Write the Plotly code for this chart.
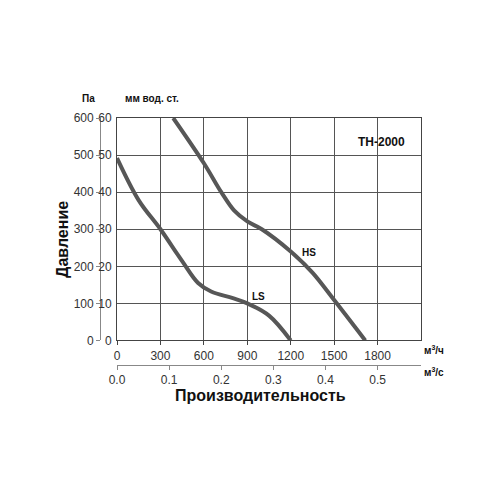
import plotly.graph_objects as go

# производительность, м3/ч  /  давление, Па
flow_ls = [0, 150, 300, 450, 560, 650, 800, 900, 1050, 1200]
pa_ls = [492, 378, 300, 214, 155, 132, 114, 100, 67, 0]

flow_hs = [388, 600, 720, 810, 900, 1000, 1200, 1350, 1500, 1715]
pa_hs = [600, 478, 400, 350, 321, 300, 240, 183, 109, 0]

pa_ticks = [0, 100, 200, 300, 400, 500, 600]
mm_ticks = ["0", "10", "20", "30", "40", "50", "60"]
m3h_ticks = [0, 300, 600, 900, 1200, 1500, 1800]
m3s_ticks = [0.0, 0.1, 0.2, 0.3, 0.4, 0.5]

FONT = "Liberation Sans, Arial, sans-serif"
NARROW = "Liberation Sans Narrow, Arial Narrow, Liberation Sans, sans-serif"
CURVE = "#575757"
GRID = "#555555"

fig = go.Figure()
fig.add_trace(go.Scatter(x=flow_ls, y=pa_ls, mode="lines",
                         line=dict(color=CURVE, width=4, shape="spline", smoothing=1.0),
                         showlegend=False, hoverinfo="skip"))
fig.add_trace(go.Scatter(x=flow_hs, y=pa_hs, mode="lines",
                         line=dict(color=CURVE, width=4, shape="spline", smoothing=1.0),
                         showlegend=False, hoverinfo="skip"))
# invisible trace so the secondary axes are drawn
fig.add_trace(go.Scatter(x=[0], y=[0], xaxis="x2", yaxis="y2", mode="markers",
                         marker=dict(opacity=0), showlegend=False, hoverinfo="skip"))

tick_font = dict(family=NARROW, size=12, color="#333")

fig.update_layout(
    width=500, height=500,
    margin=dict(l=52, r=87, t=110, b=100),
    paper_bgcolor="white", plot_bgcolor="white",
    xaxis=dict(domain=[0.158, 1], range=[0, 2100], tickvals=m3h_ticks,
               showgrid=True, gridcolor=GRID, gridwidth=1,
               showline=True, linecolor="#444", linewidth=1, mirror=True,
               ticks="outside", ticklen=4, tickcolor="#444",
               tickfont=tick_font, zeroline=False, automargin=False),
    xaxis2=dict(overlaying="x", anchor="free", position=0.148, side="bottom",
                range=[0, 2100 / 3600], tickvals=m3s_ticks,
                ticktext=[f"{v:.1f}" for v in m3s_ticks],
                showgrid=False, showline=True, linecolor="#888", linewidth=1,
                ticks="outside", ticklen=4, tickcolor="#888",
                tickfont=tick_font, zeroline=False, automargin=False),
    yaxis=dict(domain=[0.2328, 1], range=[0, 600], tickvals=pa_ticks, ticktext=mm_ticks,
               showgrid=True, gridcolor=GRID, gridwidth=1,
               showline=True, linecolor="#444", linewidth=1, mirror=True,
               ticks="", ticklabelstandoff=2,
               tickfont=tick_font, zeroline=False, automargin=False),
    yaxis2=dict(overlaying="y", anchor="free", position=0.111, side="left",
                range=[0, 600], tickvals=pa_ticks,
                showgrid=False, showline=True, linecolor="#888", linewidth=1,
                ticks="outside", ticklen=4, tickcolor="#888",
                tickfont=tick_font, zeroline=False, automargin=False),
)


def px(rx, ry):
    # reference pixel -> paper coordinates (page has an 8px body offset)
    return (rx - 8 - 52) / 361, (400 - (ry - 8)) / 290


ann = [
    ("<b>Па</b>", 88, 98, 10),
    ("<b>мм вод. ст.</b>", 152, 98, 10),
    ("<b>TH-2000</b>", 381, 142, 12),
    ("<b>HS</b>", 309, 252, 10),
    ("<b>LS</b>", 258, 296, 10),
    ("<b>м<sup>3</sup>/ч</b>", 434, 350, 10),
    ("<b>м<sup>3</sup>/с</b>", 434, 372, 10),
    ("<b>Производительность</b>", 260, 395, 16),
]
for text, rx, ry, size in ann:
    x, y = px(rx, ry)
    fig.add_annotation(text=text, xref="paper", yref="paper", x=x, y=y,
                       showarrow=False, xanchor="center", yanchor="middle",
                       font=dict(family=FONT, size=size, color="#111"))
x, y = px(62, 240)
fig.add_annotation(text="<b>Давление</b>", xref="paper", yref="paper", x=x, y=y,
                   textangle=-90, showarrow=False, xanchor="center", yanchor="middle",
                   font=dict(family=FONT, size=16, color="#111"))

fig.write_html("out.html")
